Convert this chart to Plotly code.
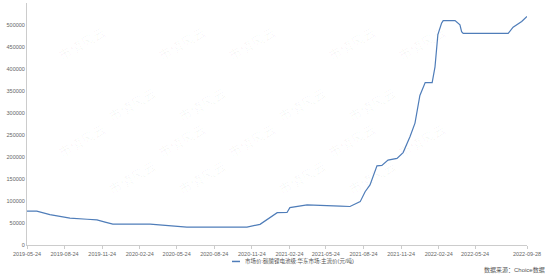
import plotly.graph_objects as go

dates = ["2019-05-24","2019-06-17","2019-07-19","2019-08-20","2019-09-06","2019-10-18",
         "2019-11-11","2019-12-01","2019-12-20","2020-03-20","2020-05-08","2020-06-18",
         "2020-11-12","2020-12-14","2021-01-25","2021-02-18","2021-02-25","2021-04-08",
         "2021-06-28","2021-07-22","2021-08-16","2021-08-28","2021-09-09","2021-09-26",
         "2021-10-08","2021-10-23","2021-11-14","2021-11-29","2021-12-16","2021-12-28",
         "2022-01-09","2022-01-22","2022-02-08","2022-02-15","2022-02-22","2022-03-03",
         "2022-03-07","2022-04-05","2022-04-17","2022-04-21","2022-04-25","2022-08-13",
         "2022-08-25","2022-09-06","2022-09-15","2022-09-28"]
prices = [77000,77000,69000,64000,61000,58500,
          57000,52000,47500,47500,43000,40500,
          40500,47000,73500,74000,85000,91000,
          88500,87500,98500,121000,136500,180000,
          181000,193000,197000,210000,246500,277000,
          340000,369000,369000,405000,478000,504000,
          510000,510000,500600,485000,481000,481000,
          495000,502000,508000,519500]

tick_dates = ["2019-05-24","2019-08-24","2019-11-24","2020-02-24","2020-05-24","2020-08-24",
              "2020-11-24","2021-02-24","2021-05-24","2021-08-24","2021-11-24","2022-02-24",
              "2022-05-24","2022-09-28"]
y_ticks = list(range(0, 550001, 50000))

series_name = "市场价:碳酸锂电池级:华东市场:主流价(元/吨)"
source_text = "数据来源：Choice数据"
watermark = "市值风云"
line_color = "#4F7DB9"

fig = go.Figure()
fig.add_trace(go.Scatter(x=dates, y=prices, mode="lines", name=series_name,
                         showlegend=False,
                         line=dict(color=line_color, width=1.2)))

font_family = "Liberation Sans, Arial, Noto Sans CJK SC, sans-serif"

# faint watermark lattice (paper coords)
rows = [0.93, 0.68, 0.43, 0.18]
for r, yy in enumerate(rows):
    off = (r % 2) * 0.1
    for c in range(5):
        xx = 0.05 + off + c * 0.2
        if xx > 0.92:
            continue
        fig.add_annotation(text=watermark, xref="paper", yref="paper", x=xx, y=yy,
                           showarrow=False, textangle=-30,
                           font=dict(size=13, color="rgba(0,0,0,0.035)", family="Noto Sans CJK SC"))

# legend (short line sample + text), centred below the axis
fig.add_shape(type="line", xref="paper", yref="paper", x0=0.41, x1=0.426, y0=-0.068, y1=-0.068,
              line=dict(color=line_color, width=1.5))
fig.add_annotation(text=series_name, xref="paper", yref="paper", x=0.432, y=-0.068,
                   xanchor="left", yanchor="middle", showarrow=False,
                   font=dict(size=5.5, color="#555", family=font_family))

fig.add_annotation(text=source_text, xref="paper", yref="paper", x=1.04, y=-0.103,
                   xanchor="right", yanchor="middle", showarrow=False,
                   font=dict(size=6, color="#555", family=font_family))

fig.update_layout(
    width=550, height=277,
    margin=dict(l=27, r=23, t=3, b=32),
    paper_bgcolor="white", plot_bgcolor="white",
    font=dict(family=font_family, size=6, color="#666"),
    showlegend=False,
    xaxis=dict(type="date", range=["2019-05-24", "2022-09-28"],
               tickvals=tick_dates, ticktext=tick_dates,
               showgrid=False, showline=True, linecolor="#ccc", linewidth=1,
               ticks="outside", ticklen=3, tickcolor="#ccc",
               tickfont=dict(size=5.5, color="#666"), zeroline=False),
    yaxis=dict(range=[0, 550000], tickvals=y_ticks, ticktext=[str(v) for v in y_ticks],
               showgrid=False, showline=True, linecolor="#ccc", linewidth=1,
               ticks="", tickfont=dict(size=5.5, color="#666"), zeroline=False),
)

fig.write_html("out.html")
